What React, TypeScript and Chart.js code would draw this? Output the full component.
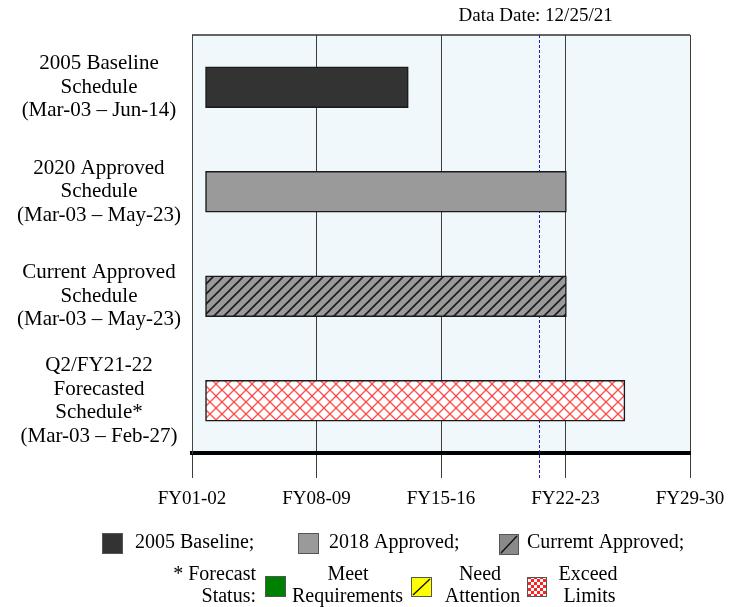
import React, { useEffect, useRef } from "react";
import { Chart, registerables } from "chart.js";

Chart.register(...registerables);

// ---------------- data ----------------
const scheduleLabels: string[][] = [
  ["2005 Baseline", "Schedule", "(Mar-03 – Jun-14)"],
  ["2020 Approved", "Schedule", "(Mar-03 – May-23)"],
  ["Current Approved", "Schedule", "(Mar-03 – May-23)"],
  ["Q2/FY21-22", "Forecasted", "Schedule*", "(Mar-03 – Feb-27)"],
];
// decimal years
const startYears = [2003.11, 2003.11, 2003.11, 2003.11];
const endYears = [2014.51, 2023.4, 2023.4, 2026.69];
const dataDateYear = 2021.84;
const dataDateText = "Data Date: 12/25/21";
const axisTickValues = [2002.35, 2009.35, 2016.35, 2023.35, 2030.35];
const axisTickLabels = ["FY01-02", "FY08-09", "FY15-16", "FY22-23", "FY29-30"];
const legendRow1 = ["2005 Baseline;", "2018 Approved;", "Curremt Approved;"];
const statusTitle = ["* Forecast", "Status:"];
const statusLabels = [
  ["Meet", "Requirements"],
  ["Need", "Attention"],
  ["Exceed", "Limits"],
];

const FONT = "'Liberation Serif', 'Times New Roman', serif";

function makeHatch(bg: string, line: string, size: number, lw: number): CanvasPattern {
  const c = document.createElement("canvas");
  c.width = size;
  c.height = size;
  const g = c.getContext("2d")!;
  g.fillStyle = bg;
  g.fillRect(0, 0, size, size);
  g.strokeStyle = line;
  g.lineWidth = lw;
  for (const off of [-size, 0, size]) {
    g.beginPath();
    g.moveTo(off - 1, size + 1);
    g.lineTo(off + size + 1, -1);
    g.stroke();
  }
  return g.createPattern(c, "repeat")!;
}

function makeCross(bg: string, line: string, size: number, lw: number): CanvasPattern {
  const c = document.createElement("canvas");
  c.width = size;
  c.height = size;
  const g = c.getContext("2d")!;
  g.fillStyle = bg;
  g.fillRect(0, 0, size, size);
  g.strokeStyle = line;
  g.lineWidth = lw;
  for (const off of [-size, 0, size]) {
    g.beginPath();
    g.moveTo(off - 1, size + 1);
    g.lineTo(off + size + 1, -1);
    g.stroke();
    g.beginPath();
    g.moveTo(off - 1, -1);
    g.lineTo(off + size + 1, size + 1);
    g.stroke();
  }
  return g.createPattern(c, "repeat")!;
}

function makeChecker(a: string, b: string, cell: number): CanvasPattern {
  const c = document.createElement("canvas");
  c.width = cell * 2;
  c.height = cell * 2;
  const g = c.getContext("2d")!;
  g.fillStyle = b;
  g.fillRect(0, 0, cell * 2, cell * 2);
  g.fillStyle = a;
  g.fillRect(0, 0, cell, cell);
  g.fillRect(cell, cell, cell, cell);
  return g.createPattern(c, "repeat")!;
}

export default function App() {
  const ref = useRef<HTMLCanvasElement | null>(null);

  useEffect(() => {
    const canvas = ref.current;
    if (!canvas) return;

    const hatchGray = makeHatch("#9a9a9a", "#1a1a1a", 10, 1.6);
    const crossRed = makeCross("#ffffff", "rgba(255,60,60,0.9)", 12, 1.3);
    const checkerRed = makeChecker("#ff2020", "#ffffff", 3);

    const bgPlugin = {
      id: "bgPlugin",
      beforeDraw(chart: any) {
        const { ctx, chartArea: a } = chart;
        ctx.save();
        ctx.fillStyle = "#f0f8fb";
        ctx.fillRect(a.left, a.top, a.right - a.left, a.bottom - a.top);
        ctx.restore();
      },
      beforeDatasetsDraw(chart: any) {
        const { ctx, chartArea: a } = chart;
        const x = chart.scales.x.getPixelForValue(dataDateYear);
        ctx.save();
        ctx.strokeStyle = "#1a1ad0";
        ctx.lineWidth = 1;
        ctx.setLineDash([3, 2]);
        ctx.beginPath();
        ctx.moveTo(Math.round(x) + 0.5, a.top);
        ctx.lineTo(Math.round(x) + 0.5, a.bottom + 25);
        ctx.stroke();
        ctx.restore();
      },
      afterDraw(chart: any) {
        const { ctx, chartArea: a } = chart;
        ctx.save();
        // top border
        ctx.strokeStyle = "#333";
        ctx.lineWidth = 1.5;
        ctx.beginPath();
        ctx.moveTo(a.left, a.top);
        ctx.lineTo(a.right, a.top);
        ctx.stroke();

        // data date label
        const x = chart.scales.x.getPixelForValue(dataDateYear);
        ctx.fillStyle = "#000";
        ctx.font = `19px ${FONT}`;
        ctx.textAlign = "center";
        ctx.textBaseline = "middle";
        ctx.fillText(dataDateText, x - 3, 16);

        // legend
        const sw = (x0: number, y0: number, w: number, h: number, fill: any, diag = false) => {
          ctx.fillStyle = fill;
          ctx.fillRect(x0, y0, w, h);
          if (diag) {
            ctx.strokeStyle = "#111";
            ctx.lineWidth = 1.4;
            ctx.beginPath();
            ctx.moveTo(x0 + 2, y0 + h - 2);
            ctx.lineTo(x0 + w - 2, y0 + 2);
            ctx.stroke();
          }
          ctx.strokeStyle = "#555";
          ctx.lineWidth = 1;
          ctx.strokeRect(x0 + 0.5, y0 + 0.5, w - 1, h - 1);
        };
        ctx.font = `20px ${FONT}`;
        ctx.textAlign = "left";
        ctx.textBaseline = "middle";
        sw(102, 533, 21, 21, "#333333");
        ctx.fillStyle = "#000";
        ctx.fillText(legendRow1[0], 135, 543);
        sw(298, 533, 21, 21, "#9a9a9a");
        ctx.fillStyle = "#000";
        ctx.fillText(legendRow1[1], 329, 543);
        sw(499, 534, 20, 21, "#8a8a8a", true);
        ctx.fillStyle = "#000";
        ctx.fillText(legendRow1[2], 527, 543);

        ctx.textAlign = "right";
        ctx.fillStyle = "#000";
        ctx.fillText(statusTitle[0], 256, 575);
        ctx.fillText(statusTitle[1], 256, 597);
        sw(265, 576, 21, 21, "#008000");
        sw(411, 577, 21, 20, "#ffff00", true);
        sw(527, 577, 20, 20, checkerRed);
        ctx.textAlign = "center";
        ctx.fillStyle = "#000";
        ctx.fillText(statusLabels[0][0], 348, 575);
        ctx.fillText(statusLabels[0][1], 347.5, 597);
        ctx.fillText(statusLabels[1][0], 480, 575);
        ctx.fillText(statusLabels[1][1], 482.5, 597);
        ctx.fillText(statusLabels[2][0], 588, 575);
        ctx.fillText(statusLabels[2][1], 589.5, 597);
        ctx.restore();
      },
    };

    const chart = new Chart(canvas, {
      type: "bar",
      data: {
        labels: scheduleLabels,
        datasets: [
          {
            data: scheduleLabels.map((_, i) => [startYears[i], endYears[i]]) as any,
            backgroundColor: ["#333333", "#9a9a9a", hatchGray, crossRed] as any,
            borderColor: "#1a1a1a",
            borderWidth: 1.5,
            borderSkipped: false,
            barThickness: 41,
          },
        ],
      },
      options: {
        indexAxis: "y",
        responsive: false,
        animation: false,
        devicePixelRatio: 1,
        layout: { padding: { top: 35, right: 47, bottom: 94, left: 0 } },
        plugins: {
          legend: { display: false },
          tooltip: { enabled: false },
        },
        scales: {
          x: {
            type: "linear",
            min: axisTickValues[0],
            max: axisTickValues[axisTickValues.length - 1],
            afterBuildTicks: (s: any) => {
              s.ticks = axisTickValues.map((v) => ({ value: v }));
            },
            afterFit: (s: any) => {
              s.height = 60;
              s.paddingLeft = 0;
              s.paddingRight = 0;
            },
            grid: {
              color: "#3c3c3c",
              lineWidth: 1,
              drawTicks: true,
              tickLength: 25,
              tickColor: "#3c3c3c",
            },
            border: { display: true, color: "#000", width: 4 },
            ticks: {
              callback: (_v: any, i: number) => axisTickLabels[i],
              font: { family: FONT, size: 19 },
              color: "#000",
              padding: 10,
              maxRotation: 0,
              autoSkip: false,
            },
          },
          y: {
            type: "category",
            afterFit: (s: any) => {
              s.width = 192;
              s.paddingTop = 0;
              s.paddingBottom = 0;
            },
            grid: { display: false, drawTicks: false },
            border: { display: true, color: "#444", width: 1 },
            ticks: {
              crossAlign: "center",
              padding: 11,
              font: { family: FONT, size: 21, lineHeight: 1.12 },
              color: "#000",
              autoSkip: false,
            },
          },
        },
      } as any,
      plugins: [bgPlugin],
    });

    return () => chart.destroy();
  }, []);

  return (
    <div style={{ position: "fixed", left: 0, top: 0, width: 737, height: 607, background: "#fff" }}>
      <canvas ref={ref} width={737} height={607} style={{ display: "block", width: 737, height: 607 }} />
    </div>
  );
}
